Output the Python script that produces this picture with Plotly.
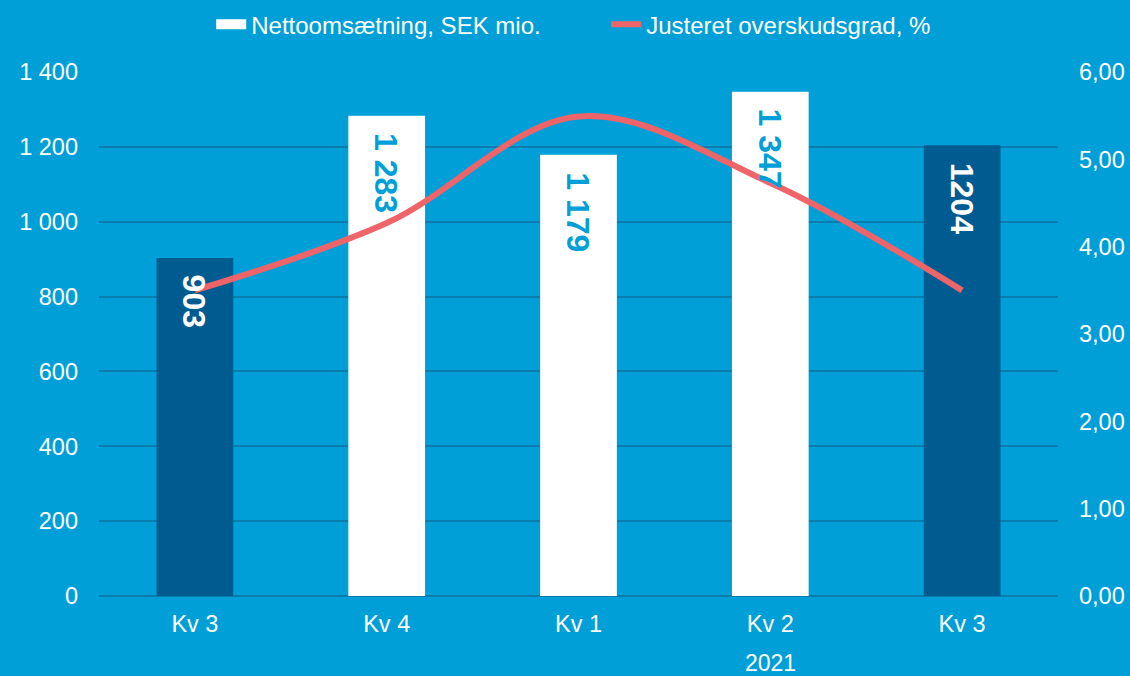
import plotly.graph_objects as go

categories = ["Kv 3", "Kv 4", "Kv 1", "Kv 2", "Kv 3"]
net_sales = [903, 1283, 1179, 1347, 1204]
net_sales_labels = ["903", "1 283", "1 179", "1 347", "1204"]
margin_pct = [3.50, 4.27, 5.49, 4.73, 3.50]
year_label = "2021"
year_center_index = 3  # centre of the 2021 quarters (Kv 1 .. Kv 3)

BG = "#009FD8"
DARK = "#005B91"
WHITE = "#FFFFFF"
RED = "#EF6468"
GRID = "#0A7DAE"
FONT = "Liberation Sans, Arial, sans-serif"

bar_colors = [DARK, WHITE, WHITE, WHITE, DARK]
label_colors = [WHITE, BG, BG, BG, WHITE]
x = list(range(len(categories)))

fig = go.Figure()
fig.add_trace(go.Bar(
    x=x, y=net_sales, name="Nettoomsætning, SEK mio.",
    marker=dict(color=bar_colors, line=dict(width=0)),
    width=0.4, showlegend=False,
))
# legend entry for the bars (white swatch)
fig.add_trace(go.Scatter(
    x=[None], y=[None], name="Nettoomsætning, SEK mio.", mode="lines",
    line=dict(color=WHITE, width=13), showlegend=True,
))
fig.add_trace(go.Scatter(
    x=x, y=margin_pct, name="Justeret overskudsgrad, %",
    mode="lines", line=dict(color=RED, width=6, shape="spline", smoothing=1.0),
    yaxis="y2",
))

for xi, v, lab, col in zip(x, net_sales, net_sales_labels, label_colors):
    fig.add_annotation(x=xi, y=v, xref="x", yref="y", text="<b>" + lab + "</b>",
                       textangle=90, showarrow=False, yanchor="top", xanchor="center",
                       yshift=-15, font=dict(family=FONT, size=32, color=col))

fig.add_annotation(x=year_center_index, y=0, xref="x", yref="paper", yshift=-67,
                   text=year_label, showarrow=False,
                   font=dict(size=23, color="white"), yanchor="middle")

fig.update_layout(
    width=1130, height=676,
    paper_bgcolor=BG, plot_bgcolor=BG,
    margin=dict(l=99, r=72, t=72, b=80),
    separators=", ",
    font=dict(family=FONT, size=23.5, color="white"),
    showlegend=True,
    legend=dict(orientation="h", x=0.117, xanchor="left", y=0.997, yanchor="top",
                yref="container", font=dict(size=24, color="white"),
                bgcolor="rgba(0,0,0,0)", itemwidth=30, traceorder="normal",
                entrywidth=350),
    xaxis=dict(tickmode="array", tickvals=x, ticktext=categories, range=[-0.5, 4.5],
               showgrid=False, zeroline=False, showline=False, ticks="",
               ticklabelstandoff=11, fixedrange=True, automargin=False),
    yaxis=dict(range=[0, 1400], dtick=200, tickformat=",d", showgrid=True,
               gridcolor=GRID, gridwidth=2, zeroline=True, zerolinecolor=GRID,
               zerolinewidth=2, showline=False, ticks="", ticklabelstandoff=20,
               automargin=False),
    yaxis2=dict(range=[0, 6], dtick=1, tickformat=".2f", overlaying="y", side="right",
                showgrid=False, zeroline=False, showline=False, ticks="",
                ticklabelstandoff=20, automargin=False),
)

fig.write_html("out.html", config={"displayModeBar": False},
               post_script="document.body.style.margin='0';")
